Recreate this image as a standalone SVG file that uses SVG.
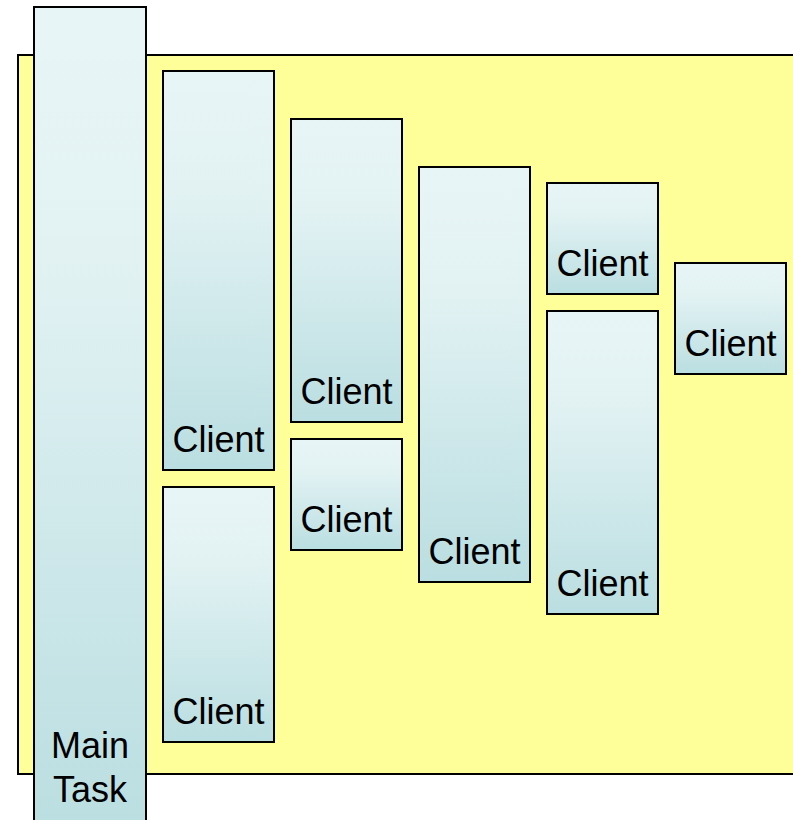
<svg xmlns="http://www.w3.org/2000/svg" width="793" height="820" viewBox="0 0 793 820">
<defs>
<linearGradient id="g" x1="0" y1="0" x2="0" y2="1">
<stop offset="0" stop-color="#E8F5F6"/>
<stop offset="0.3" stop-color="#E2F2F3"/>
<stop offset="1" stop-color="#BADEE1"/>
</linearGradient>
</defs>
<style>
.box{fill:url(#g);stroke:#000;stroke-width:2}
.t{font-family:"Liberation Sans",Arial,sans-serif;font-size:36px;fill:#000;text-anchor:middle}
</style>
<rect x="0" y="0" width="793" height="820" fill="#fff"/>
<rect id="background" x="18" y="55" width="790" height="719" fill="#FFFF99" stroke="#000" stroke-width="2"/>
<g id="main-task"><rect class="box" x="34" y="7" width="112" height="830"/><text class="t" x="90" y="758">Main</text><text class="t" x="90" y="802">Task</text></g>
<g id="client1"><rect class="box" x="163" y="71" width="111" height="399"/><text class="t" x="218.5" y="452">Client</text></g>
<g id="client2"><rect class="box" x="163" y="487" width="111" height="255"/><text class="t" x="218.5" y="724">Client</text></g>
<g id="client3"><rect class="box" x="291" y="119" width="111" height="303"/><text class="t" x="346.5" y="404">Client</text></g>
<g id="client4"><rect class="box" x="291" y="439" width="111" height="111"/><text class="t" x="346.5" y="532">Client</text></g>
<g id="client5"><rect class="box" x="419" y="167" width="111" height="415"/><text class="t" x="474.5" y="564">Client</text></g>
<g id="client6"><rect class="box" x="547" y="183" width="111" height="111"/><text class="t" x="602.5" y="276">Client</text></g>
<g id="client7"><rect class="box" x="547" y="311" width="111" height="303"/><text class="t" x="602.5" y="596">Client</text></g>
<g id="client8"><rect class="box" x="675" y="263" width="111" height="111"/><text class="t" x="730.5" y="356">Client</text></g>
<g id="connectors"/>
</svg>
